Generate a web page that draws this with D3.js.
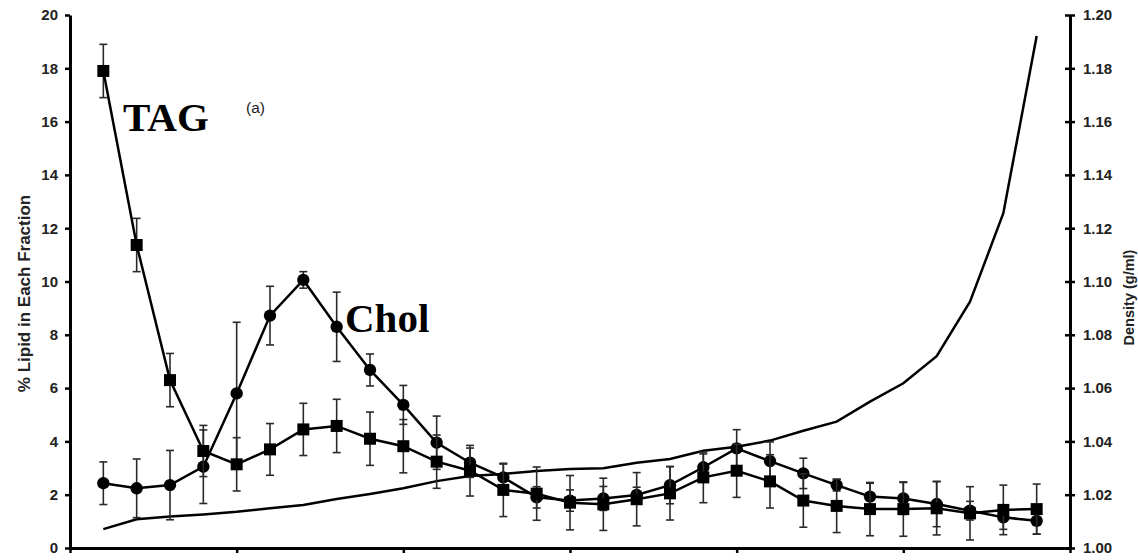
<!DOCTYPE html>
<meta charset="utf-8">
<script src="https://d3js.org/d3.v7.min.js"></script>
<style>
  body { margin: 0; background: #fff; }
  svg { display: block; }
  .tick text { font-family: Arial, "Liberation Sans", sans-serif; font-weight: bold; font-size: 15px; }
</style>
<div id="my_dataviz"></div>
<script>

// fraction numbers along the gradient
var fractions = d3.range(1, 30)

// % TAG in each fraction, with error
var tagValues = [17.9, 11.37, 6.3, 3.64, 3.14, 3.7, 4.45, 4.58, 4.1, 3.82,
                 3.24, 2.9, 2.18, 2.04, 1.7, 1.64, 1.83, 2.05, 2.65, 2.9,
                 2.5, 1.78, 1.58, 1.46, 1.46, 1.49, 1.3, 1.43, 1.46]
var tagErr = [1.0, 1.0, 1.0, 0.96, 1.0, 0.97, 0.98, 1.0, 1.0, 1.0,
              1.0, 0.95, 1.0, 1.0, 1.02, 0.98, 1.0, 1.0, 0.95, 1.0,
              1.0, 1.0, 1.0, 1.0, 1.02, 1.0, 1.0, 0.93, 0.94]

// % Cholesterol in each fraction, with error
var cholValues = [2.43, 2.24, 2.36, 3.05, 5.8, 8.72, 10.06, 8.3, 6.68, 5.37,
                  3.95, 3.2, 2.65, 1.9, 1.78, 1.86, 1.99, 2.36, 3.03, 3.74,
                  3.26, 2.8, 2.36, 1.93, 1.86, 1.65, 1.4, 1.15, 1.02]
var cholErr = [0.8, 1.1, 1.3, 1.38, 2.67, 1.1, 0.31, 1.3, 0.6, 0.73,
               1.0, 0.55, 0.5, 0.4, 0.4, 0.45, 0.29, 0.7, 0.5, 0.7,
               0.72, 0.57, 0.22, 0.5, 0.6, 0.85, 0.35, 0.45, 0.5]

// gradient density (g/ml), right axis
var density = [1.0071, 1.0108, 1.0118, 1.0126, 1.0136, 1.0149, 1.0161, 1.0184, 1.0203, 1.0224,
               1.0251, 1.027, 1.0278, 1.0289, 1.0296, 1.0299, 1.032, 1.0334, 1.0365, 1.038,
               1.0403, 1.044, 1.0474, 1.0549, 1.0618, 1.072, 1.0924, 1.1256, 1.1921]

var leftTicks = [0, 2, 4, 6, 8, 10, 12, 14, 16, 18, 20]
var rightTicks = [1.00, 1.02, 1.04, 1.06, 1.08, 1.10, 1.12, 1.14, 1.16, 1.18, 1.20]
var xTicks = [0, 5, 10, 15, 20, 25, 30]

var W = 1138, H = 560
var margin = {top: 15, right: 68, bottom: 12, left: 70},
    width = W - margin.left - margin.right,
    height = H - margin.top - margin.bottom;

var svg = d3.select("#my_dataviz")
  .append("svg")
    .attr("width", W)
    .attr("height", H)
  .append("g")
    .attr("transform", "translate(" + margin.left + "," + margin.top + ")");

var x = d3.scaleLinear().domain([0, 30]).range([0, width])
var y = d3.scaleLinear().domain([0, 20]).range([height, 0])
var yD = d3.scaleLinear().domain([1.00, 1.20]).range([height, 0])

// axes
var gx = svg.append("g")
  .attr("transform", "translate(0," + height + ")")
  .call(d3.axisBottom(x).tickValues(xTicks).tickSize(5).tickSizeOuter(0).tickFormat(""))

var gy = svg.append("g")
  .call(d3.axisLeft(y).tickValues(leftTicks).tickSize(5).tickSizeOuter(0).tickPadding(7))

var gr = svg.append("g")
  .attr("transform", "translate(" + width + ",0)")
  .call(d3.axisRight(yD).tickValues(rightTicks).tickSize(5).tickSizeOuter(0).tickPadding(8)
        .tickFormat(d3.format(".2f")))
// right ticks cross the axis
gr.selectAll(".tick line").attr("x1", -5)

;[gx, gy, gr].forEach(function(g) {
  g.select(".domain").attr("stroke", "#000").attr("stroke-width", 3)
  g.selectAll(".tick line").attr("stroke", "#000").attr("stroke-width", 2.5)
  g.selectAll(".tick text").attr("fill", "#222")
})

// axis titles
svg.append("text")
  .attr("transform", "translate(-40," + (height / 2 + 12) + ") rotate(-90)")
  .attr("text-anchor", "middle")
  .style("font-family", "Arial, 'Liberation Sans', sans-serif")
  .style("font-weight", "bold")
  .style("font-size", "17px")
  .attr("fill", "#222")
  .text("% Lipid in Each Fraction")

svg.append("text")
  .attr("transform", "translate(" + (width + 64) + "," + (height / 2 + 16) + ") rotate(-90)")
  .attr("text-anchor", "middle")
  .style("font-family", "Arial, 'Liberation Sans', sans-serif")
  .style("font-weight", "bold")
  .style("font-size", "14.5px")
  .attr("fill", "#222")
  .text("Density (g/ml)")

// density line
svg.append("path")
  .datum(fractions)
  .attr("fill", "none")
  .attr("stroke", "#000")
  .attr("stroke-width", 2.5)
  .attr("d", d3.line()
    .x(function(d) { return x(d) })
    .y(function(d, i) { return yD(density[i]) }))

function drawSeries(vals, errs, shape) {
  // error bars
  var eb = svg.append("g").attr("stroke", "#2a2a2a").attr("stroke-width", 1.6)
  fractions.forEach(function(f, i) {
    var cx = x(f), lo = y(vals[i] - errs[i]), hi = y(vals[i] + errs[i])
    eb.append("line").attr("x1", cx).attr("x2", cx).attr("y1", lo).attr("y2", hi)
    eb.append("line").attr("x1", cx - 4).attr("x2", cx + 4).attr("y1", lo).attr("y2", lo)
    eb.append("line").attr("x1", cx - 4).attr("x2", cx + 4).attr("y1", hi).attr("y2", hi)
  })
  svg.append("path")
    .datum(fractions)
    .attr("fill", "none")
    .attr("stroke", "#000")
    .attr("stroke-width", 2.5)
    .attr("d", d3.line()
      .x(function(d) { return x(d) })
      .y(function(d, i) { return y(vals[i]) }))
  svg.append("g").selectAll("path")
    .data(fractions)
    .enter()
    .append("path")
      .attr("transform", function(d, i) { return "translate(" + x(d) + "," + y(vals[i]) + ")" })
      .attr("d", d3.symbol().type(shape).size(shape === d3.symbolSquare ? 144 : 120))
      .attr("fill", "#000")
}

drawSeries(cholValues, cholErr, d3.symbolCircle)
drawSeries(tagValues, tagErr, d3.symbolSquare)

// labels
svg.append("text")
  .attr("x", 53).attr("y", 116)
  .style("font-family", "'Liberation Serif', 'Times New Roman', serif")
  .style("font-weight", "bold")
  .style("font-size", "41px")
  .text("TAG")

svg.append("text")
  .attr("x", 176).attr("y", 98)
  .style("font-family", "Arial, 'Liberation Sans', sans-serif")
  .style("font-size", "15.5px")
  .attr("fill", "#222")
  .text("(a)")

svg.append("text")
  .attr("x", 275).attr("y", 317)
  .style("font-family", "'Liberation Serif', 'Times New Roman', serif")
  .style("font-weight", "bold")
  .style("font-size", "41px")
  .text("Chol")

</script>
